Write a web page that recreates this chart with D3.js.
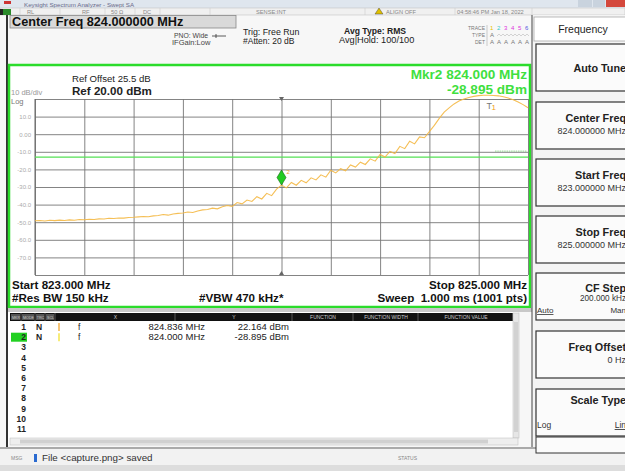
<!DOCTYPE html>
<html><head><meta charset="utf-8">
<script src="https://cdn.jsdelivr.net/npm/d3@7"></script>
<style>
html,body{margin:0;padding:0;background:#fff;}
svg{display:block;font-family:"Liberation Sans",Arial,sans-serif;}
</style></head>
<body><svg id="c" width="625" height="471"></svg>
<script>
// ---- data ----
const sweepStart = 823.0, sweepStop = 825.0;           // MHz
const refLevel = 20, dbPerDiv = 10, numDivs = 10;
const xTickMHz = [823.0,823.2,823.4,823.6,823.8,824.0,824.2,824.4,824.6,824.8,825.0];
const yTicks = [20,10,0,-10,-20,-30,-40,-50,-60,-70,-80];
const yTickLabels = ["","10.0","0.00","-10.0","-20.0","-30.0","-40.0","-50.0","-60.0","-70.0",""];
// trace level (dBm) read every 0.02 MHz from 823.00 to 825.00
const traceLevels = [
 -49.2,-49.0,-49.3,-48.9,-49.1,-48.8,-49.0,-48.7,-48.9,-48.5,
 -48.6,-48.3,-48.5,-48.1,-48.2,-47.8,-47.9,-47.6,-47.7,-47.3,
 -47.2,-47.0,-46.8,-46.9,-46.4,-46.2,-45.6,-46.0,-45.3,-45.0,
 -44.8,-44.2,-44.5,-43.6,-43.0,-42.8,-42.0,-42.4,-41.2,-40.5,
 -41.0,-38.8,-39.6,-37.4,-38.2,-35.5,-36.8,-33.6,-34.9,-31.2,
 -28.9,-30.5,-27.4,-29.0,-26.2,-27.6,-24.8,-26.0,-23.1,-24.4,
 -20.5,-22.0,-19.6,-20.8,-17.5,-18.7,-15.9,-17.2,-14.0,-15.3,
 -11.5,-13.0,-9.8,-11.0,-6.9,-8.2,-4.0,-5.5,-1.5,-2.0,
 1.5,5.0,9.0,12.5,15.0,17.2,18.8,20.0,20.9,21.5,
 21.9,22.1,22.16,22.0,21.8,21.3,20.6,19.6,18.3,16.8,
 15.0];
const displayLine = -13;       // dBm
const markers = [
  {n:1, mode:"N", trc:"1", scl:"f", x:824.836, y:22.164},
  {n:2, mode:"N", trc:"1", scl:"f", x:824.000, y:-28.895}
];
const menuButtons = [
  {label:"Auto Tune", sub:""},
  {label:"Center Freq", sub:"824.000000 MHz"},
  {label:"Start Freq", sub:"823.000000 MHz"},
  {label:"Stop Freq", sub:"825.000000 MHz"},
  {label:"CF Step", sub:"200.000 kHz"},
  {label:"Freq Offset", sub:"0 Hz"},
  {label:"Scale Type", sub:""}
];

// ---- drawing ----
const svg = d3.select("#c");
const W=625,H=471;
svg.append("rect").attr("width",W).attr("height",H).attr("fill","#f7f7f7");

// title bar
svg.append("rect").attr("x",0).attr("y",0).attr("width",W).attr("height",8).attr("fill","#dfe6ee");
svg.append("rect").attr("x",4).attr("y",1).attr("width",7).attr("height",3).attr("fill","#c33");
svg.append("text").attr("x",24).attr("y",6.5).attr("font-size",6.2).attr("fill","#6a6a8a").text("Keysight Spectrum Analyzer - Swept SA");
svg.append("rect").attr("x",578).attr("y",0).attr("width",14).attr("height",7).attr("fill","#c9d3de");
svg.append("rect").attr("x",593).attr("y",0).attr("width",12).attr("height",7).attr("fill","#c9d3de");
svg.append("rect").attr("x",606).attr("y",0).attr("width",19).attr("height",7).attr("fill","#d4483c");
// status row
svg.append("rect").attr("x",0).attr("y",8).attr("width",W).attr("height",7).attr("fill","#f0f0f0").attr("stroke","#bbb").attr("stroke-width",0.5);
svg.append("rect").attr("x",3).attr("y",9).attr("width",8).attr("height",6).attr("fill","#2a8a2a");
svg.append("rect").attr("x",0).attr("y",9).attr("width",3).attr("height",6).attr("fill","#222");
const stat=[["RL",27],["RF",82],["50 Ω",111],["DC",143],["SENSE:INT",256],["ALIGN OFF",386],["04:58:46 PM Jan 18, 2022",457]];
stat.forEach(s=>svg.append("text").attr("x",s[1]).attr("y",14).attr("font-size",5.7).attr("fill","#888").text(s[0]));
[20,60,105,135,160,210,365,455,532].forEach(x=>svg.append("line").attr("x1",x).attr("x2",x).attr("y1",8).attr("y2",15).attr("stroke","#ccc").attr("stroke-width",0.6));
svg.append("path").attr("d","M375,14 L379,8 L383,14 Z").attr("fill","#e0c000").attr("stroke","#333").attr("stroke-width",0.4);

// center freq box
svg.append("rect").attr("x",10).attr("y",15.5).attr("width",226).attr("height",12.5).attr("fill","#d9d9d9").attr("stroke","#888").attr("stroke-width",0.8);
svg.append("text").attr("x",12).attr("y",26.3).attr("font-size",12.7).attr("font-weight","bold").attr("fill","#111").text("Center Freq 824.000000 MHz");
svg.append("text").attr("x",174).attr("y",38).attr("font-size",6.8).attr("fill","#444").text("PNO: Wide");
svg.append("path").attr("d","M212,36 L226,36 M216,34 L216,38").attr("stroke","#333").attr("stroke-width",0.8);
svg.append("text").attr("x",172).attr("y",45).attr("font-size",7.5).attr("fill","#444").text("IFGain:Low");
svg.append("text").attr("x",243).attr("y",35).attr("font-size",8.8).attr("fill","#222").text("Trig: Free Run");
svg.append("text").attr("x",243).attr("y",44).attr("font-size",8.5).attr("fill","#222").text("#Atten: 20 dB");
svg.append("text").attr("x",344).attr("y",34).attr("font-size",8.6).attr("font-weight","bold").attr("fill","#222").text("Avg Type: RMS");
svg.append("text").attr("x",339).attr("y",43).attr("font-size",9.2).attr("fill","#222").text("Avg|Hold: 100/100");
// trace table top right
[["TRACE",30],["TYPE",37],["DET",44]].forEach(t=>svg.append("text").attr("x",485).attr("y",t[1]).attr("text-anchor","end").attr("font-size",5).attr("fill","#777").text(t[0]));
const trColors=["#e8c000","#3cc","#d3d","#d3d","#d3d","#55d"];
trColors.forEach((c,i)=>{svg.append("text").attr("x",490+i*7).attr("y",30).attr("font-size",6).attr("fill",c).text(i+1);
 svg.append("text").attr("x",490+i*7).attr("y",44).attr("font-size",6).attr("fill","#777").text("A");});
svg.append("text").attr("x",490).attr("y",37).attr("font-size",6).attr("fill","#777").text("A");
svg.append("path").attr("d","M497,36 l2,-2 l2,2 l2,-2 l2,2 l2,-2 l2,2 l2,-2 l2,2 l2,-2 l2,2 l2,-2 l2,2 l2,-2 l2,2 l2,-2 l2,2").attr("fill","none").attr("stroke","#999").attr("stroke-width",0.4);
svg.append("line").attr("x1",487).attr("x2",487).attr("y1",25).attr("y2",46).attr("stroke","#999").attr("stroke-width",0.5);

// left dark edge
svg.append("rect").attr("x",6).attr("y",15).attr("width",2).attr("height",450).attr("fill","#333");

// plot frame
svg.append("rect").attr("x",9).attr("y",65).attr("width",521).attr("height",242).attr("fill","#fff").attr("stroke","#2bdc2b").attr("stroke-width",2.5);

const x = d3.scaleLinear().domain([sweepStart,sweepStop]).range([35,528]);
const y = d3.scaleLinear().domain([refLevel-dbPerDiv*numDivs, refLevel]).range([275,99]);

// grid via axes
const gx = svg.append("g").attr("transform","translate(0,275)")
  .call(d3.axisBottom(x).tickValues(xTickMHz).tickSize(-176).tickFormat(""));
gx.select(".domain").remove();
gx.selectAll(".tick line").attr("stroke","#767676").attr("stroke-width",0.9);
const gy = svg.append("g").attr("transform","translate(35,0)")
  .call(d3.axisLeft(y).tickValues(yTicks).tickSize(-493).tickPadding(4).tickFormat((d,i)=>yTickLabels[i]));
gy.select(".domain").remove();
gy.selectAll(".tick line").attr("stroke","#767676").attr("stroke-width",0.9);
gy.selectAll(".tick text").attr("font-size",6).attr("fill","#aaa").attr("font-family","Liberation Sans, Arial");
svg.append("line").attr("x1",35).attr("x2",35).attr("y1",99).attr("y2",275).attr("stroke","#666").attr("stroke-width",1);

// center ticks
svg.append("path").attr("d",`M${x(824)-2.5},97 L${x(824)+2.5},97 L${x(824)},101 Z`).attr("fill","#666");
svg.append("path").attr("d",`M${x(824)-2.5},275 L${x(824)+2.5},275 L${x(824)},271 Z`).attr("fill","#666");

// display line
svg.append("line").attr("x1",35).attr("x2",528).attr("y1",y(displayLine)).attr("y2",y(displayLine)).attr("stroke","#55e055").attr("stroke-width",1.3);
svg.append("line").attr("x1",495).attr("x2",527).attr("y1",y(-9.6)).attr("y2",y(-9.6)).attr("stroke","#7ad07a").attr("stroke-width",0.8).attr("stroke-dasharray","1.5,0.8");

// trace
const step=(sweepStop-sweepStart)/(traceLevels.length-1);
const pts = traceLevels.map((v,i)=>[sweepStart+i*step, v]);
svg.append("path").datum(pts)
  .attr("d", d3.line().x(d=>x(d[0])).y(d=>y(d[1])))
  .attr("fill","none").attr("stroke","#f4b844").attr("stroke-width",1.1).attr("opacity",0.9);

// markers
const m2 = markers[1], m1 = markers[0];
const mx=x(m2.x), my=y(m2.y);
svg.append("path").attr("d",`M${mx},${my} L${mx+4.5},${my-7.5} L${mx},${my-15} L${mx-4.5},${my-7.5} Z`)
  .attr("fill","#22cc22").attr("stroke","#116611").attr("stroke-width",0.6);
svg.append("text").attr("x",mx+5).attr("y",my-11).attr("font-size",6).attr("fill","#f2a030").text(m2.n);
svg.append("text").attr("x",x(m1.x)-1).attr("y",109).attr("font-size",9).attr("fill","#777").text("T");
svg.append("text").attr("x",x(m1.x)+4).attr("y",110).attr("font-size",8).attr("fill","#f0a020").text(m1.n);

// plot annotations
svg.append("text").attr("x",72).attr("y",82).attr("font-size",9.6).attr("fill","#222").text("Ref Offset 25.5 dB");
svg.append("text").attr("x",72).attr("y",95).attr("font-size",11.6).attr("font-weight","bold").attr("fill","#222").text("Ref 20.00 dBm");
svg.append("text").attr("x",11).attr("y",94.5).attr("font-size",7.5).attr("fill","#999").text("10 dB/div");
svg.append("text").attr("x",11).attr("y",103.5).attr("font-size",7.5).attr("fill","#777").text("Log");
svg.append("text").attr("x",527).attr("y",79).attr("text-anchor","end").attr("font-size",13.6).attr("font-weight","bold").attr("fill","#3fe03f").text(`Mkr${m2.n} ${m2.x.toFixed(3)} MHz`);
svg.append("text").attr("x",527).attr("y",93.5).attr("text-anchor","end").attr("font-size",13.6).attr("font-weight","bold").attr("fill","#3fe03f").text(`${m2.y.toFixed(3)} dBm`);
const bf=11.6;
svg.append("text").attr("x",12).attr("y",288.5).attr("font-size",bf).attr("font-weight","bold").attr("fill","#111").text(`Start ${sweepStart.toFixed(3)} MHz`);
svg.append("text").attr("x",527).attr("y",288.5).attr("text-anchor","end").attr("font-size",bf).attr("font-weight","bold").attr("fill","#111").text(`Stop ${sweepStop.toFixed(3)} MHz`);
svg.append("text").attr("x",12).attr("y",301.5).attr("font-size",bf).attr("font-weight","bold").attr("fill","#111").text("#Res BW 150 kHz");
svg.append("text").attr("x",199).attr("y",301.5).attr("font-size",bf).attr("font-weight","bold").attr("fill","#111").text("#VBW 470 kHz*");
svg.append("text").attr("x",527).attr("y",301.5).attr("text-anchor","end").attr("font-size",bf).attr("font-weight","bold").attr("fill","#111").text("Sweep\u00a0\u00a01.000 ms (1001 pts)");

// separator
svg.append("rect").attr("x",8).attr("y",308).attr("width",524).attr("height",4).attr("fill","#c8c8c8");

// marker table
svg.append("rect").attr("x",8).attr("y",312).attr("width",510).attr("height",133).attr("fill","#fff");
svg.append("rect").attr("x",10).attr("y",313).attr("width",503).attr("height",8).attr("fill","#111");
const hdr=[["MKR",11,10],["MODE",22,13],["TRC",36,9],["SCL",46,9],["X",56,119],["Y",176,116],["FUNCTION",293,60],["FUNCTION WIDTH",354,64],["FUNCTION VALUE",419,94]];
hdr.forEach(h=>{
  if(h[2]<15) svg.append("rect").attr("x",h[1]).attr("y",314).attr("width",h[2]-1).attr("height",6).attr("fill","#555");
  svg.append("text").attr("x",h[1]+h[2]/2).attr("y",319.3).attr("text-anchor","middle").attr("font-size",h[2]<15?3.6:5).attr("fill","#ccc").text(h[0]);
  svg.append("line").attr("x1",h[1]+h[2]).attr("x2",h[1]+h[2]).attr("y1",313).attr("y2",321).attr("stroke","#888").attr("stroke-width",0.6);
});
const rowY = n => 330 + (n-1)*10.2;
svg.append("rect").attr("x",11).attr("y",rowY(2)-7.5).attr("width",16).attr("height",9).attr("fill","#22d022");
d3.range(1,12).forEach(n=>svg.append("text").attr("x",26).attr("y",rowY(n)).attr("text-anchor","end").attr("font-size",8.5).attr("font-weight","bold").attr("fill","#222").text(n));
markers.forEach(m=>{
  const yy=rowY(m.n);
  svg.append("text").attr("x",36).attr("y",yy).attr("font-size",8.5).attr("font-weight","bold").attr("fill","#222").text(m.mode);
  svg.append("line").attr("x1",59).attr("x2",59).attr("y1",yy-7).attr("y2",yy+1).attr("stroke",m.n===1?"#f0a020":"#f2e020").attr("stroke-width",1.2);
  svg.append("text").attr("x",78).attr("y",yy).attr("font-size",8.5).attr("fill","#222").text(m.scl);
  svg.append("text").attr("x",205).attr("y",yy).attr("text-anchor","end").attr("font-size",9.5).attr("fill","#222").text(m.x.toFixed(3)+" MHz");
  svg.append("text").attr("x",289).attr("y",yy).attr("text-anchor","end").attr("font-size",9.5).attr("fill","#222").text(m.y.toFixed(3)+" dBm");
});
// scrollbars
svg.append("rect").attr("x",513).attr("y",313).attr("width",6).attr("height",125).attr("fill","#e6e6e6").attr("stroke","#bbb").attr("stroke-width",0.5);
svg.append("rect").attr("x",514).attr("y",322).attr("width",4).attr("height",110).attr("fill","#d2d2d2");
svg.append("rect").attr("x",10).attr("y",438).attr("width",508).attr("height",7).attr("fill","#eee").attr("stroke","#bbb").attr("stroke-width",0.5);
svg.append("rect").attr("x",20).attr("y",439.5).attr("width",468).attr("height",4).attr("fill","#d0d0d0");

// status bar
svg.append("rect").attr("x",0).attr("y",447).attr("width",W).attr("height",2).attr("fill","#aaa");
svg.append("rect").attr("x",0).attr("y",449).attr("width",W).attr("height",16).attr("fill","#f2f2f2");
svg.append("text").attr("x",11).attr("y",460).attr("font-size",5).attr("fill","#888").text("MSG");
svg.append("rect").attr("x",34).attr("y",454).attr("width",3).attr("height",8).attr("fill","#2a6ad0");
svg.append("text").attr("x",42).attr("y",461).attr("font-size",9.8).attr("fill","#333").text("File <capture.png> saved");
svg.append("text").attr("x",398).attr("y",460).attr("font-size",5).attr("fill","#888").text("STATUS");
svg.append("rect").attr("x",0).attr("y",465).attr("width",W).attr("height",6).attr("fill","#ddd");

// right menu panel
svg.append("rect").attr("x",532).attr("y",15).attr("width",93).attr("height",432).attr("fill","#f4f4f4");
svg.append("line").attr("x1",532).attr("x2",532).attr("y1",15).attr("y2",447).attr("stroke","#444").attr("stroke-width",1);
svg.append("rect").attr("x",534).attr("y",17).attr("width",92).attr("height",24).attr("fill","#fff").attr("stroke","#aaa").attr("stroke-width",0.8);
svg.append("text").attr("x",583).attr("y",33).attr("text-anchor","middle").attr("font-size",10.5).attr("fill","#222").text("Frequency");
const btnTops=[44,102,159,216,273,331,389];
menuButtons.forEach((b,i)=>{
  const t=btnTops[i];
  svg.append("rect").attr("x",536).attr("y",t).attr("width",92).attr("height",47).attr("fill","#fbfbfb").attr("stroke","#333").attr("stroke-width",1.2);
  let ly = b.sub ? t+20 : t+28;
  if(i===4) ly=t+19;
  if(i===6) ly=t+15;
  svg.append("text").attr("x",626).attr("y",ly).attr("text-anchor","end").attr("font-size",10.8).attr("font-weight","bold").attr("fill","#222").text(b.label);
  if(b.sub) svg.append("text").attr("x",626).attr("y",t+(i===4?28:32)).attr("text-anchor","end").attr("font-size",i===4?8.2:9).attr("fill","#333").text(b.sub);
});
svg.append("text").attr("x",537).attr("y",313).attr("font-size",8).attr("fill","#333").attr("text-decoration","underline").text("Auto");
svg.append("text").attr("x",626).attr("y",313).attr("text-anchor","end").attr("font-size",8).attr("fill","#333").text("Man");
svg.append("text").attr("x",537).attr("y",428).attr("font-size",8.5).attr("fill","#333").text("Log");
svg.append("text").attr("x",626).attr("y",428).attr("text-anchor","end").attr("font-size",8.5).attr("fill","#333").attr("text-decoration","underline").text("Lin");
svg.append("rect").attr("x",536).attr("y",437).attr("width",92).attr("height",16).attr("fill","#fbfbfb").attr("stroke","#333").attr("stroke-width",1);
</script></body></html>
